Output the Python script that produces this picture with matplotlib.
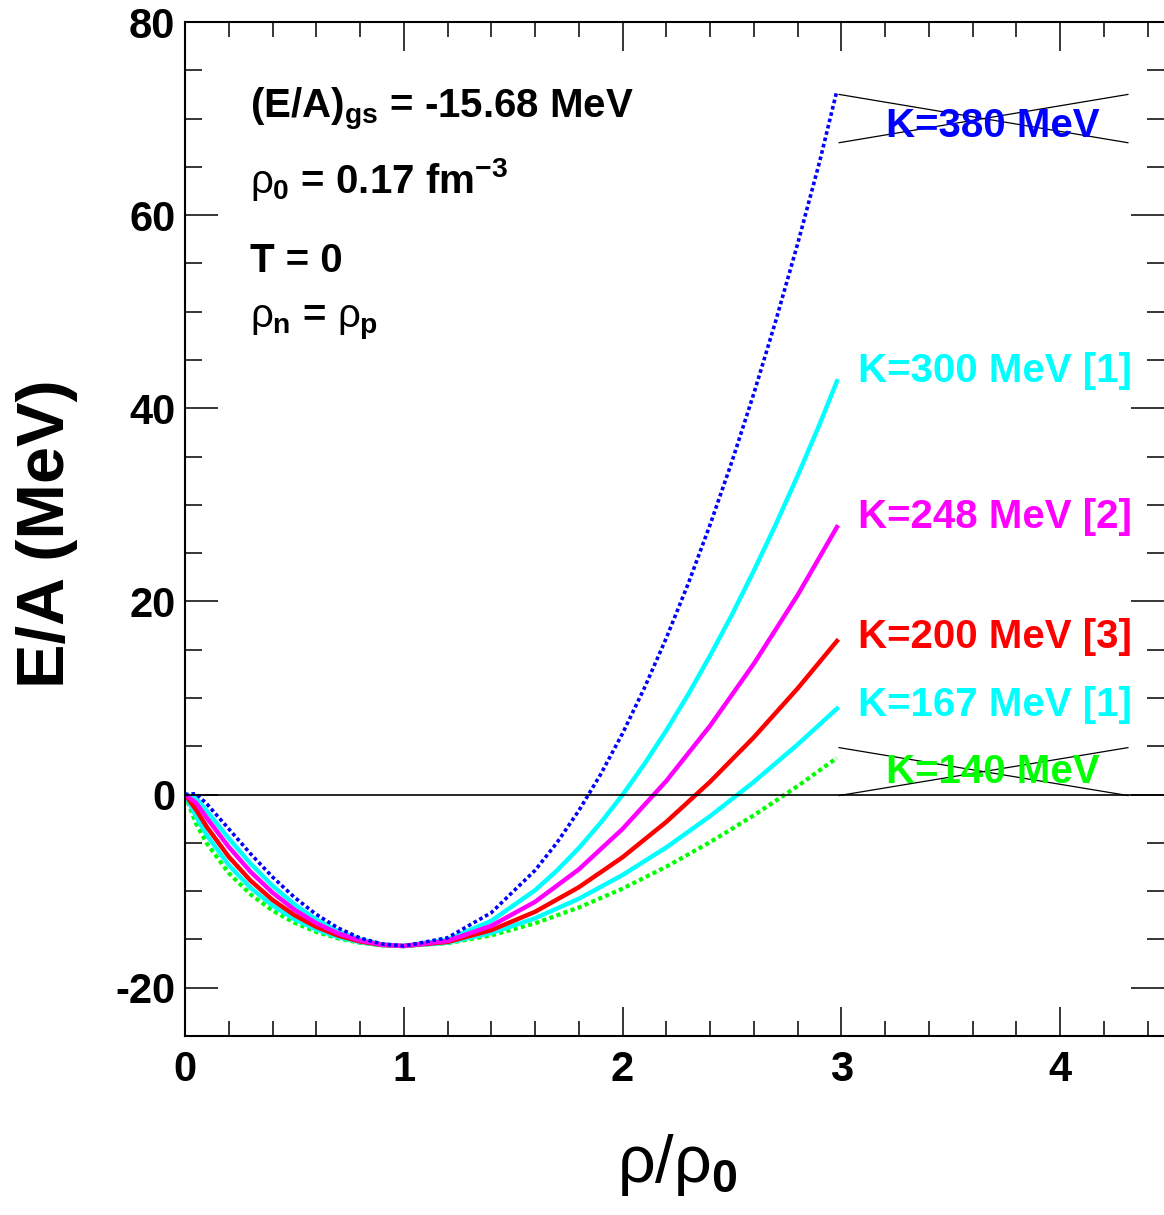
import matplotlib
matplotlib.use("Agg")
import matplotlib.pyplot as plt
from matplotlib.ticker import MultipleLocator

plt.rcParams["font.family"] = ["Liberation Sans", "DejaVu Sans"]
plt.rcParams["font.weight"] = "bold"
plt.rcParams["axes.unicode_minus"] = False
plt.rcParams["mathtext.fontset"] = "custom"
plt.rcParams["mathtext.rm"] = "Liberation Sans:weight=normal"
plt.rcParams["mathtext.it"] = "Liberation Sans:weight=normal"
plt.rcParams["mathtext.bf"] = "Liberation Sans:weight=bold"

# density rho/rho0 and energy per nucleon (MeV)
rho = [0.0, 0.05, 0.1, 0.2, 0.3, 0.4, 0.5, 0.6, 0.7, 0.8, 0.9, 1.0,
       1.2, 1.4, 1.6, 1.8, 2.0, 2.2, 2.4, 2.6, 2.8, 2.98]
# finer sampling for the two stiffest curves
rho_fine = [0.0, 0.05, 0.1, 0.2, 0.3, 0.4, 0.5, 0.6, 0.7, 0.8, 0.9, 1.0,
            1.2, 1.4, 1.6, 1.7, 1.8, 1.9, 2.0, 2.1, 2.2, 2.3, 2.4, 2.5,
            2.6, 2.7, 2.8, 2.9, 2.98]

e_k380 = [0.0, 0.10, -0.97, -3.55, -6.14, -8.53, -10.64, -12.41, -13.82, -14.85, -15.47, -15.68,
          -14.83, -12.23, -7.85, -4.99, -1.67, 2.10, 6.33, 11.04, 16.21, 21.83, 27.93, 34.48,
          41.52, 49.03, 57.00, 65.46, 72.9]
e_k300 = [0.0, -0.36, -1.71, -4.54, -7.16, -9.44, -11.37, -12.94, -14.15, -15.00, -15.51, -15.68,
          -15.02, -13.08, -9.91, -7.87, -5.54, -2.92, -0.03, 3.17, 6.64, 10.37, 14.38, 18.62,
          23.17, 27.95, 33.00, 38.30, 42.8]
e_k248 = [0.0, -0.85, -2.43, -5.42, -8.00, -10.15, -11.92, -13.32, -14.38, -15.11, -15.54, -15.68,
          -15.15, -13.59, -11.11, -7.75, -3.56, 1.41, 7.12, 13.54, 20.64, 27.7]
e_k200 = [0.0, -1.55, -3.36, -6.44, -8.92, -10.91, -12.48, -13.70, -14.60, -15.21, -15.57, -15.68,
          -15.26, -14.04, -12.14, -9.60, -6.49, -2.83, 1.32, 5.93, 10.98, 15.9]
e_k167 = [0.0, -2.24, -4.21, -7.30, -9.66, -11.49, -12.90, -13.98, -14.76, -15.28, -15.58, -15.68,
          -15.33, -14.34, -12.81, -10.79, -8.33, -5.47, -2.24, 1.31, 5.18, 8.9]
e_k140 = [0.0, -2.99, -5.07, -8.13, -10.34, -12.01, -13.27, -14.22, -14.89, -15.35, -15.60, -15.68,
          -15.39, -14.58, -13.33, -11.70, -9.74, -7.47, -4.93, -2.15, 0.87, 3.8]

labels = ["K=380 MeV", "K=300 MeV [1]", "K=248 MeV [2]",
          "K=200 MeV [3]", "K=167 MeV [1]", "K=140 MeV"]

info_lines = [r"$\mathbf{(E/A)_{gs}}$ = -15.68 MeV",
              r"$\rho_\mathbf{0}$ = 0.17 fm$^\mathbf{-3}$",
              "T = 0",
              r"$\rho_\mathbf{n}$ = $\rho_\mathbf{p}$"]

W, H = 1164, 1215
fig = plt.figure(figsize=(W / 100, H / 100), dpi=100)
ax = fig.add_axes([185 / W, (H - 1036) / H, 1 - 185 / W, (1036 - 22) / H])

dotted = (0, (1.0, 0.8))
ax.plot(rho, e_k140, color="#00ff00", lw=3.0, linestyle=dotted)
ax.plot(rho, e_k167, color="#00ffff", lw=3.2)
ax.plot(rho, e_k200, color="#ff0000", lw=3.2)
ax.plot(rho_fine, e_k300, color="#00ffff", lw=3.2)
ax.plot(rho, e_k248, color="#ff00ff", lw=3.2)
ax.plot(rho_fine, e_k380, color="#0000ff", lw=2.6, linestyle=dotted)

ax.axhline(0, color="black", lw=1.2)

ax.set_xlim(0, 4.475)
ax.set_ylim(-25, 80)

# curve labels
ax.text(3.694, 68.1, labels[0], color="#0000ff", fontsize=29, ha="center", va="baseline")
ax.text(3.078, 42.75, labels[1], color="#00ffff", fontsize=29, ha="left", va="baseline")
ax.text(3.078, 27.6, labels[2], color="#ff00ff", fontsize=29, ha="left", va="baseline")
ax.text(3.078, 15.2, labels[3], color="#ff0000", fontsize=29, ha="left", va="baseline")
ax.text(3.078, 8.1, labels[4], color="#00ffff", fontsize=29, ha="left", va="baseline")
ax.text(3.694, 1.2, labels[5], color="#00ff00", fontsize=29, ha="center", va="baseline")

# crossed-out labels
for y_lo, y_hi in [(67.5, 72.5), (-0.1, 4.86)]:
    ax.plot([2.99, 4.31], [y_hi, y_lo], color="black", lw=0.9)
    ax.plot([2.99, 4.31], [y_lo, y_hi], color="black", lw=0.9)

for txt, yb in zip(info_lines, [70.0, 62.3, 54.1, 48.4]):
    ax.text(0.297, yb, txt, fontsize=29, ha="left", va="baseline")

ax.xaxis.set_major_locator(MultipleLocator(1))
ax.xaxis.set_minor_locator(MultipleLocator(0.2))
ax.yaxis.set_major_locator(MultipleLocator(20))
ax.yaxis.set_minor_locator(MultipleLocator(5))
ax.tick_params(which="both", direction="in", top=True, right=True, width=1.1)
ax.tick_params(axis="y", which="major", length=24, pad=7, labelsize=30)
ax.tick_params(axis="y", which="minor", length=12)
ax.tick_params(axis="x", which="major", length=21, pad=10, labelsize=30)
ax.tick_params(axis="x", which="minor", length=11)
for lab in ax.get_xticklabels() + ax.get_yticklabels():
    lab.set_fontweight("bold")

for side in ["left", "bottom", "top"]:
    ax.spines[side].set_linewidth(1.5)
ax.spines["right"].set_visible(False)

fig.text(47 / W, 1 - 534 / H, "E/A (MeV)", rotation=90, fontsize=48,
         ha="center", va="center")
fig.text(677 / W, 1 - 1182 / H, r"$\rho/\rho_\mathbf{0}$", fontsize=48,
         ha="center", va="baseline")

fig.savefig("out.png", dpi=100)
